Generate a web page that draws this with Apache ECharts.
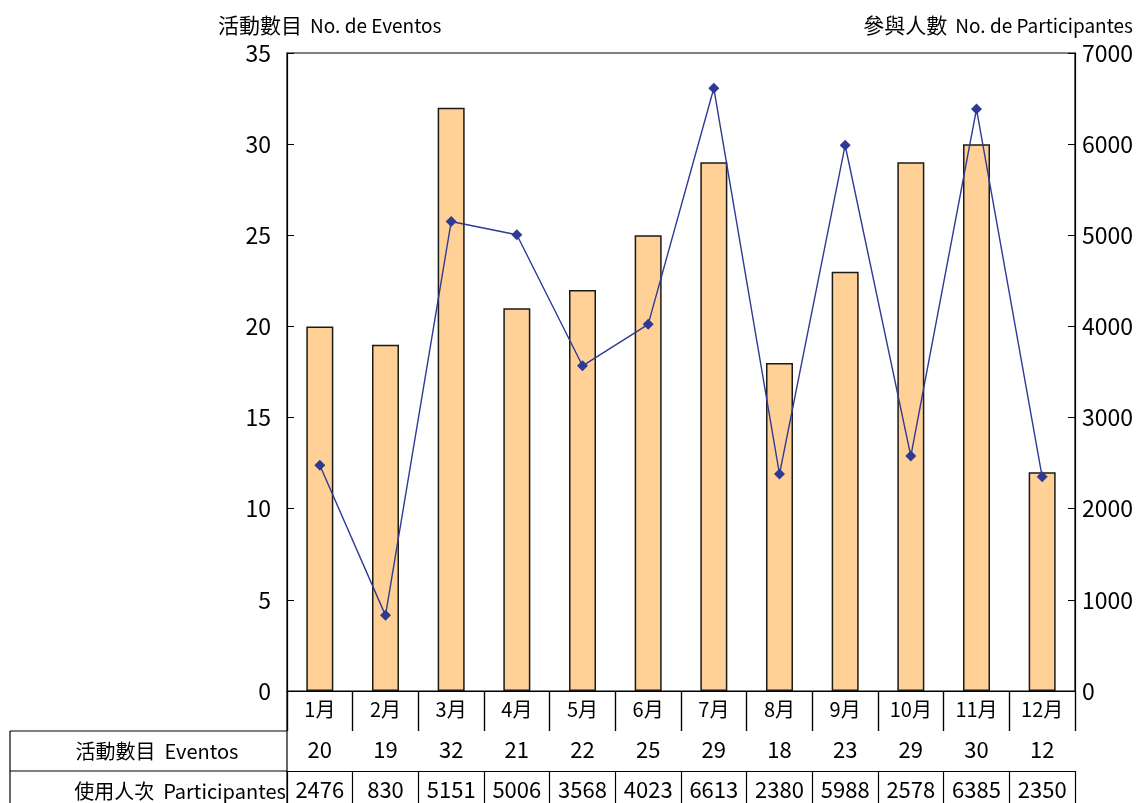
<!DOCTYPE html>
<html><head><meta charset="utf-8">
<script src="https://cdn.jsdelivr.net/npm/echarts@6/dist/echarts.min.js"></script>
<style>html,body{margin:0;padding:0;background:#fff}#c{width:1148px;height:803px}</style>
</head><body><div id="c"></div>
<script>
const months = ['1月','2月','3月','4月','5月','6月','7月','8月','9月','10月','11月','12月'];
const events = [20,19,32,21,22,25,29,18,23,29,30,12];
const participants = [2476,830,5151,5006,3568,4023,6613,2380,5988,2578,6385,2350];
const leftTicks = [0,35,5];
const rightTicks = [0,7000,1000];
const FONT = '"Noto Sans CJK TC", "Noto Sans", sans-serif';
const chart = echarts.init(document.getElementById('c'), null, {renderer:'canvas'});
const tableAxis = (data, offset, fs) => ({
  type:'category', data: data.map(String), position:'bottom', offset: offset, gridIndex:0,
  axisLine:{show:true, lineStyle:{color:'#000', width:1.2}},
  axisTick:{show:true, length:40, interval:0, lineStyle:{color:'#000', width:1.2}},
  axisLabel:{show:true, interval:0, margin:8, fontSize:fs, color:'#000', fontFamily:FONT},
  splitLine:{show:false}
});
const titleRich = {c:{fontSize:21, fontWeight:'normal', color:'#000', fontFamily:FONT}, l:{fontSize:19, fontWeight:'normal', color:'#000', fontFamily:FONT}};
chart.setOption({
  animation:false,
  textStyle:{fontFamily:FONT},
  title:[
    {text:'{c|活動數目}  {l|No. de Eventos}', left:213, top:10, textStyle:{fontWeight:'normal', rich:titleRich}},
    {text:'{c|參與人數}  {l|No. de Participantes}', right:10, top:10, textStyle:{fontWeight:'normal', rich:titleRich}}
  ],
  grid:{left:287, right:73, top:53, bottom:112, show:true, borderColor:'#000', borderWidth:1.2, backgroundColor:'transparent'},
  xAxis:[
    tableAxis(months, 0, 20),
    tableAxis(events, 40, 22),
    tableAxis(participants, 80, 22)
  ],
  yAxis:[
    {type:'value', min:leftTicks[0], max:leftTicks[1], interval:leftTicks[2], position:'left',
     axisLine:{show:true, lineStyle:{color:'#000', width:1.2}},
     axisTick:{show:true, inside:true, length:7, lineStyle:{color:'#000'}},
     axisLabel:{fontSize:23, color:'#000', margin:16, fontFamily:FONT},
     splitLine:{show:false}},
    {type:'value', min:rightTicks[0], max:rightTicks[1], interval:rightTicks[2], position:'right',
     axisLine:{show:true, lineStyle:{color:'#000', width:1.2}},
     axisTick:{show:true, inside:true, length:7, lineStyle:{color:'#000'}},
     axisLabel:{fontSize:23, color:'#000', margin:7, fontFamily:FONT, formatter:(v)=>String(v)},
     splitLine:{show:false}}
  ],
  series:[
    {type:'bar', data:events, xAxisIndex:0, yAxisIndex:0, barWidth:27,
     itemStyle:{color:'#FFD196', borderColor:'#1a1a1a', borderWidth:1.5}},
    {type:'line', data:participants, xAxisIndex:0, yAxisIndex:1, symbol:'diamond', symbolSize:11,
     lineStyle:{color:'#2E3A94', width:1.4}, itemStyle:{color:'#2E3A94'}}
  ],
  graphic:[
    {type:'line', shape:{x1:10, y1:731, x2:287, y2:731}, style:{stroke:'#000', lineWidth:1.2}},
    {type:'line', shape:{x1:10, y1:771, x2:287, y2:771}, style:{stroke:'#000', lineWidth:1.2}},
    {type:'line', shape:{x1:10, y1:731, x2:10, y2:803}, style:{stroke:'#000', lineWidth:1.2}},
    {type:'line', shape:{x1:287, y1:691, x2:287, y2:803}, style:{stroke:'#000', lineWidth:1.2}},
    {type:'text', x:157, y:751, style:{text:'活動數目  Eventos', fontSize:20, fill:'#000', align:'center', verticalAlign:'middle', fontFamily:FONT}},
    {type:'text', x:180, y:791, style:{text:'使用人次  Participantes', fontSize:20, fill:'#000', align:'center', verticalAlign:'middle', fontFamily:FONT}}
  ]
});
</script></body></html>
